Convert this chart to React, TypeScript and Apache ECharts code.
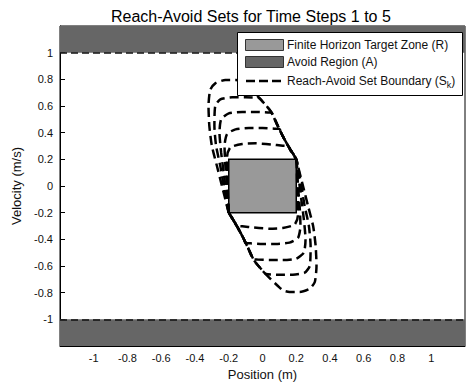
import React, { useEffect, useRef } from "react";
import * as echarts from "echarts";

const titleText = "Reach-Avoid Sets for Time Steps 1 to 5";
const xName = "Position (m)";
const yName = "Velocity (m/s)";
const axisMin = -1.2;
const axisMax = 1.2;
const tickStep = 0.2;

const targetZone = { x: [-0.2, 0.2], y: [-0.2, 0.2] };
const avoidUpper = [1, 1.2];
const avoidLower = [-1.2, -1];

const legendLabels = ["Finite Horizon Target Zone (R)", "Avoid Region (A)", "Reach-Avoid Set Boundary (S{sub|k})"];

// Reach-avoid set boundaries: upper half then lower half
const set1Upper = [[-0.2,-0.2],[-0.205,-0.05],[-0.21,0.1],[-0.21,0.22],[-0.19,0.29],[-0.12,0.315],[-0.04,0.32],[0.05,0.312],[0.12,0.302],[0.153,0.298],[0.166,0.27],[0.2,0.2]];
const set1Lower = [[0.205,0.05],[0.21,-0.1],[0.21,-0.22],[0.19,-0.29],[0.12,-0.315],[0.04,-0.32],[-0.05,-0.312],[-0.12,-0.302],[-0.153,-0.298],[-0.166,-0.27],[-0.2,-0.2]];

const set2Upper = [[-0.2,-0.2],[-0.21,0.0],[-0.22,0.15],[-0.225,0.3],[-0.21,0.39],[-0.16,0.425],[-0.08,0.435],[0.0,0.435],[0.07,0.43],[0.099,0.428],[0.126,0.36],[0.166,0.27],[0.2,0.2]];
const set2Lower = [[0.21,0.0],[0.22,-0.15],[0.225,-0.3],[0.21,-0.39],[0.16,-0.425],[0.08,-0.435],[0.0,-0.435],[-0.07,-0.43],[-0.099,-0.428],[-0.126,-0.36],[-0.166,-0.27],[-0.2,-0.2]];

const set3Upper = [[-0.2,-0.2],[-0.215,-0.05],[-0.23,0.1],[-0.245,0.25],[-0.255,0.4],[-0.245,0.5],[-0.2,0.545],[-0.12,0.555],[-0.04,0.555],[0.03,0.552],[0.053,0.55],[0.087,0.46],[0.126,0.36],[0.166,0.27],[0.2,0.2]];
const set3Lower = [[0.215,0.05],[0.23,-0.1],[0.245,-0.25],[0.255,-0.4],[0.245,-0.5],[0.2,-0.545],[0.12,-0.555],[0.04,-0.555],[-0.03,-0.552],[-0.053,-0.55],[-0.087,-0.46],[-0.126,-0.36],[-0.166,-0.27],[-0.2,-0.2]];

const set4Upper = [[-0.2,-0.2],[-0.21,-0.15],[-0.23,0.0],[-0.25,0.15],[-0.275,0.3],[-0.285,0.45],[-0.28,0.6],[-0.25,0.65],[-0.18,0.665],[-0.1,0.665],[-0.02,0.66],[0.0,0.634],[0.049,0.56],[0.087,0.46],[0.126,0.36],[0.166,0.27],[0.2,0.2]];
const set4Lower = [[0.21,0.15],[0.23,0.0],[0.25,-0.15],[0.275,-0.3],[0.285,-0.45],[0.28,-0.6],[0.25,-0.65],[0.18,-0.665],[0.1,-0.665],[0.02,-0.66],[0.0,-0.634],[-0.049,-0.56],[-0.087,-0.46],[-0.126,-0.36],[-0.166,-0.27],[-0.2,-0.2]];

const set5Upper = [[-0.2,-0.2],[-0.21,-0.15],[-0.24,0.0],[-0.27,0.15],[-0.3,0.3],[-0.315,0.45],[-0.32,0.6],[-0.31,0.72],[-0.28,0.77],[-0.22,0.795],[-0.16,0.795],[-0.125,0.785],[-0.1,0.76],[-0.05,0.7],[0.0,0.634],[0.049,0.56],[0.087,0.46],[0.126,0.36],[0.166,0.27],[0.2,0.2]];
const set5Lower = [[0.21,0.15],[0.24,0.0],[0.27,-0.15],[0.3,-0.3],[0.315,-0.45],[0.32,-0.6],[0.31,-0.72],[0.28,-0.77],[0.22,-0.795],[0.16,-0.795],[0.125,-0.785],[0.1,-0.76],[0.05,-0.7],[0.0,-0.634],[-0.049,-0.56],[-0.087,-0.46],[-0.126,-0.36],[-0.166,-0.27],[-0.2,-0.2]];

const reachAvoidSets = [
  [...set1Upper, ...set1Lower],
  [...set2Upper, ...set2Lower],
  [...set3Upper, ...set3Lower],
  [...set4Upper, ...set4Lower],
  [...set5Upper, ...set5Lower],
];

const FONT = "'Liberation Sans', Arial, Helvetica, sans-serif";

export default function App() {
  const ref = useRef<HTMLDivElement>(null);
  useEffect(() => {
    document.body.style.margin = "0";
    const chart = echarts.init(ref.current!, null, { renderer: "svg" });
    const curveSeries = reachAvoidSets.map((pts, i) => ({
      type: "line",
      name: "S" + (i + 1),
      data: pts,
      showSymbol: false,
      symbol: "none",
      smooth: 0.2,
      z: 5,
      lineStyle: { color: "#000", width: 2.5, type: [9, 5] },
      silent: true,
    }));
    const option: any = {
      animation: false,
      backgroundColor: "#fff",
      textStyle: { fontFamily: FONT },
      title: {
        text: titleText,
        left: 106,
        top: 3,
        textStyle: { fontFamily: FONT, fontSize: 16, fontWeight: "normal", color: "#000" },
      },
      grid: {
        left: 60, right: 1, top: 26, bottom: 46,
        show: true, borderColor: "#000", borderWidth: 1, backgroundColor: "#fff",
        outerBoundsMode: "none",
      },
      xAxis: {
        type: "value", min: axisMin, max: axisMax, interval: tickStep,
        name: xName, nameLocation: "middle", nameGap: 21,
        nameTextStyle: { fontFamily: FONT, fontSize: 13, color: "#111" },
        axisLine: { show: true, onZero: false, lineStyle: { color: "#000", width: 1 } },
        axisTick: { show: true, inside: true, length: 5, lineStyle: { color: "#000" } },
        axisLabel: { showMinLabel: false, showMaxLabel: false, margin: 6, fontFamily: FONT, fontSize: 11, color: "#111" },
        splitLine: { show: false },
      },
      yAxis: {
        type: "value", min: axisMin, max: axisMax, interval: tickStep,
        name: yName, nameLocation: "middle", nameGap: 28, nameRotate: 90,
        nameTextStyle: { fontFamily: FONT, fontSize: 13, color: "#111" },
        axisLine: { show: true, onZero: false, lineStyle: { color: "#000", width: 1 } },
        axisTick: { show: true, inside: true, length: 5, lineStyle: { color: "#000" } },
        axisLabel: { showMinLabel: false, showMaxLabel: false, margin: 7, fontFamily: FONT, fontSize: 11, color: "#111" },
        splitLine: { show: false },
      },
      series: [
        {
          type: "line",
          name: "regions",
          data: [[0, 0]],
          symbol: "none",
          showSymbol: false,
          lineStyle: { opacity: 0 },
          z: 2,
          silent: true,
          markArea: {
            silent: true,
            label: { show: false },
            data: [
              [
                { yAxis: avoidUpper[0], xAxis: axisMin, itemStyle: { color: "#666666", borderWidth: 0 } },
                { yAxis: avoidUpper[1], xAxis: axisMax },
              ],
              [
                { yAxis: avoidLower[0], xAxis: axisMin, itemStyle: { color: "#666666", borderWidth: 0 } },
                { yAxis: avoidLower[1], xAxis: axisMax },
              ],
              [
                { xAxis: targetZone.x[0], yAxis: targetZone.y[0], itemStyle: { color: "#999999", borderColor: "#000", borderWidth: 1.5 } },
                { xAxis: targetZone.x[1], yAxis: targetZone.y[1] },
              ],
            ],
          },
          markLine: {
            silent: true,
            symbol: "none",
            label: { show: false },
            lineStyle: { color: "#111", width: 1.5, type: [7, 4] },
            data: [{ yAxis: avoidUpper[0] }, { yAxis: avoidLower[1] }],
          },
        },
        ...curveSeries,
      ],
      graphic: [
        { type: "rect", z: 100, shape: { x: 237.5, y: 32.5, width: 225, height: 63 }, style: { fill: "#fff", stroke: "#000", lineWidth: 1 } },
        { type: "rect", z: 101, shape: { x: 245.5, y: 39.5, width: 38, height: 11 }, style: { fill: "#999999", stroke: "#333", lineWidth: 1 } },
        { type: "text", z: 101, x: 287, y: 45, style: { text: legendLabels[0], font: `12px ${FONT}`, fill: "#111", verticalAlign: "middle" } },
        { type: "rect", z: 101, shape: { x: 245.5, y: 56.5, width: 38, height: 11 }, style: { fill: "#666666", stroke: "#333", lineWidth: 1 } },
        { type: "text", z: 101, x: 287, y: 62, style: { text: legendLabels[1], font: `12px ${FONT}`, fill: "#111", verticalAlign: "middle" } },
        { type: "line", z: 101, shape: { x1: 246, y1: 81, x2: 283, y2: 81 }, style: { stroke: "#000", lineWidth: 2.5, lineDash: [9, 4] } },
        {
          type: "text", z: 101, x: 287, y: 81,
          style: {
            text: legendLabels[2], fontFamily: FONT, fontSize: 12, fill: "#111", verticalAlign: "middle",
            rich: { sub: { fontSize: 9, fontFamily: FONT, fill: "#111", padding: [7, 0, 0, 0] } },
          },
        },
      ],
    };
    chart.setOption(option);
    return () => chart.dispose();
  }, []);
  return <div ref={ref} style={{ width: 466, height: 392, position: "fixed", left: 0, top: 0 }} />;
}
